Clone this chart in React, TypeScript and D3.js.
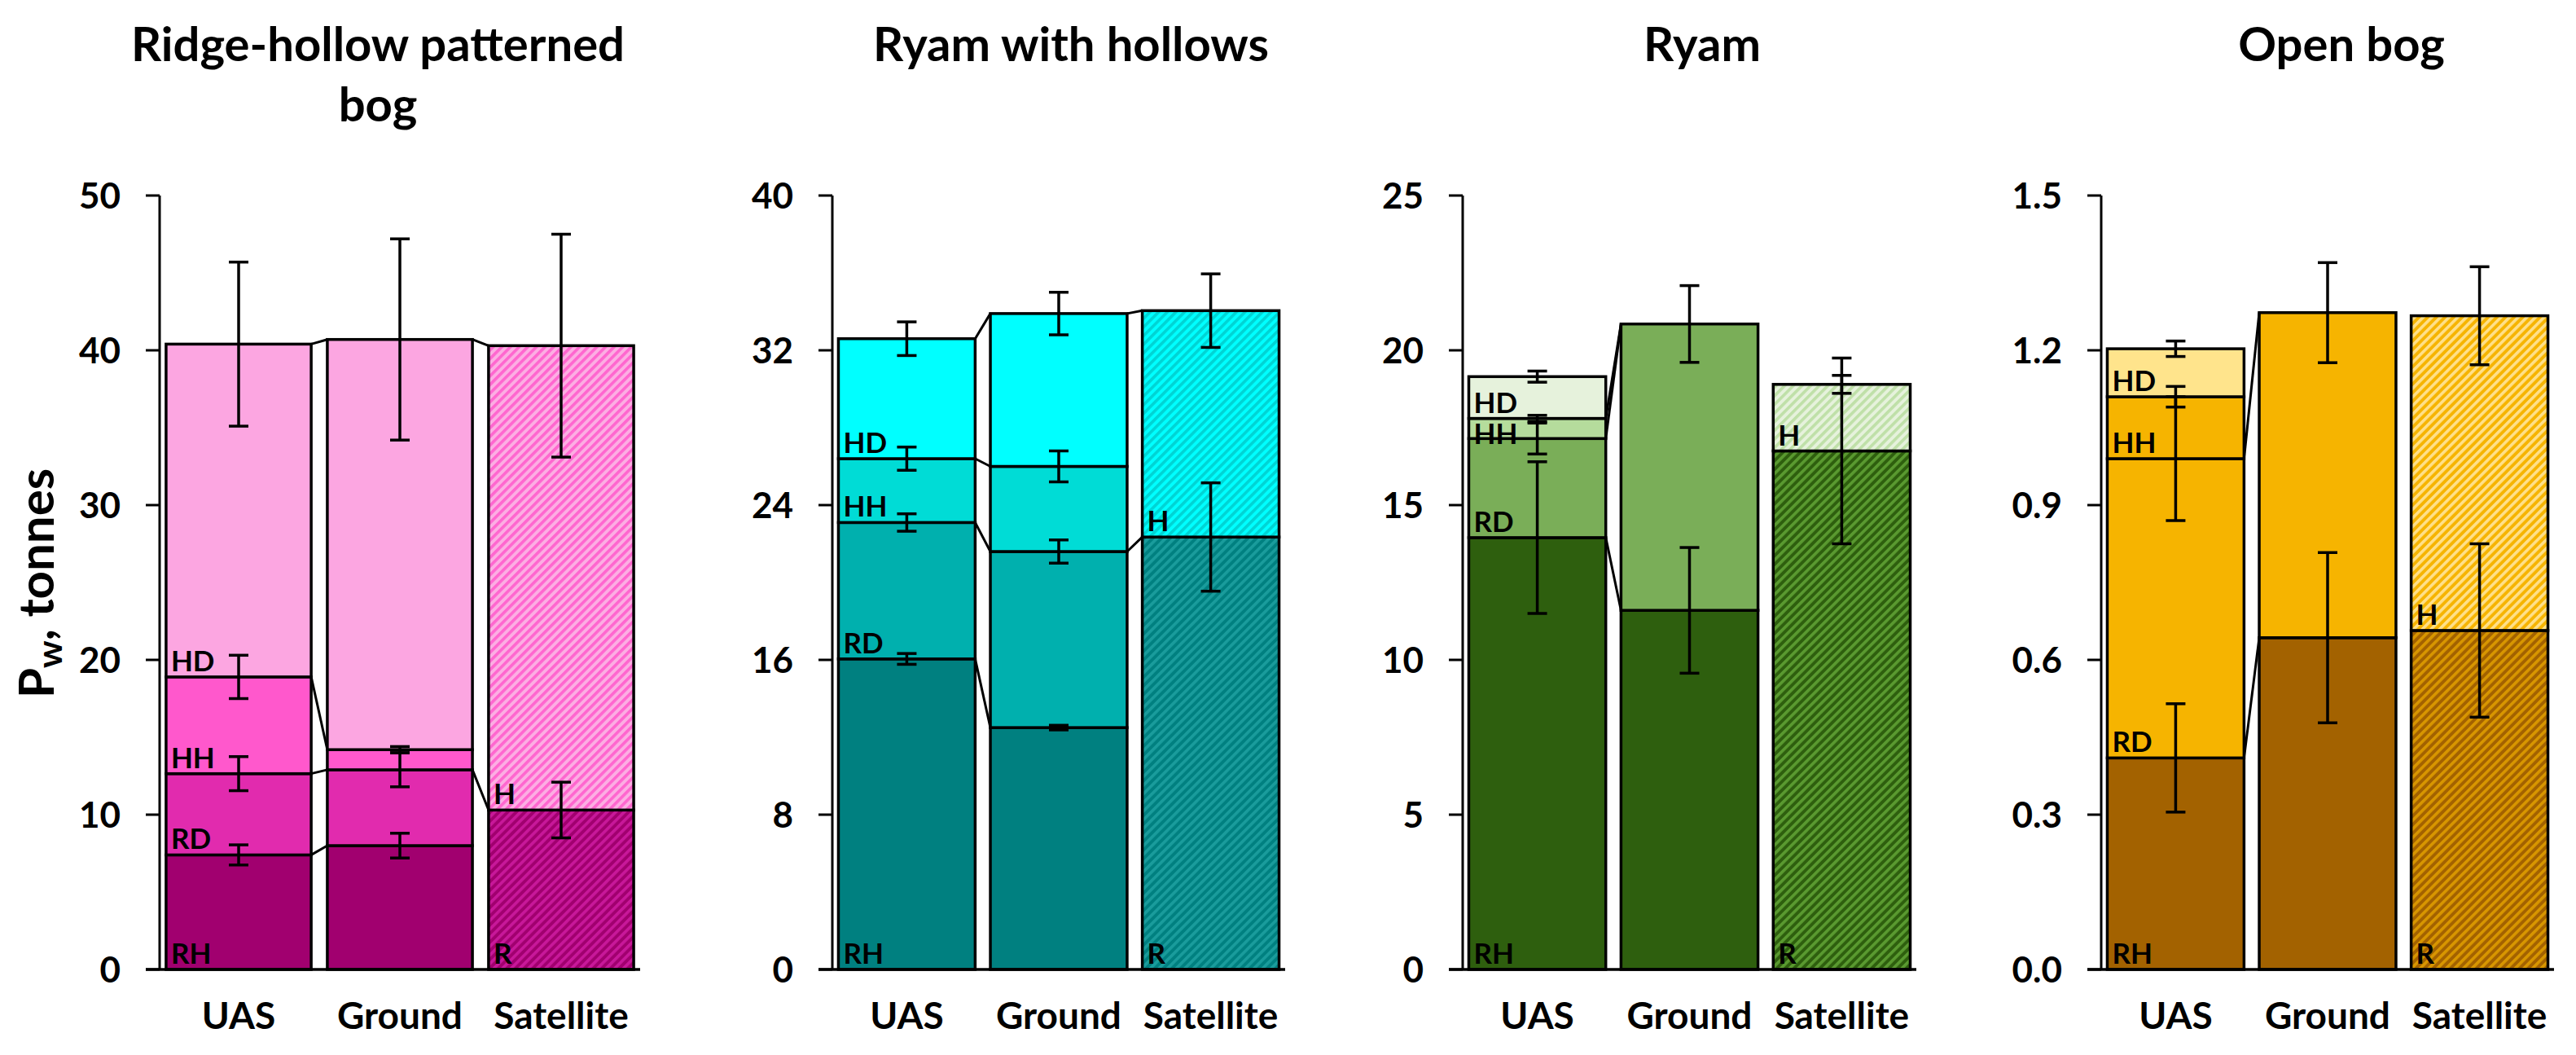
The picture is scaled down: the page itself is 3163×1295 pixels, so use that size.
import React from 'react';
import * as d3 from 'd3';

const sources = ['UAS', 'Ground', 'Satellite'];
const uasLayers = ['RH', 'RD', 'HH', 'HD'];
const satelliteLayers = ['R', 'H'];

const panelTitles = [['Ridge-hollow patterned', 'bog'], ['Ryam with hollows'], ['Ryam'], ['Open bog']];
const yMax = [50, 40, 25, 1.5];
const yStep = [10, 8, 5, 0.3];

// stacked segments, bottom to top: UAS (RH, RD, HH, HD), Ground, Satellite (R, H)
const ridgeHollowValues = [[7.4, 5.25, 6.25, 21.5], [8.0, 4.9, 1.3, 26.5], [10.3, 30.0]];
const ridgeHollowErrors = [[0.65, 1.1, 1.4, 5.3], [0.8, 1.1, 0.2, 6.5], [1.8, 7.2]];
const ryamHollowsValues = [[16.05, 7.05, 3.3, 6.2], [12.5, 9.1, 4.4, 7.9], [22.35, 11.7]];
const ryamHollowsErrors = [[0.28, 0.45, 0.6, 0.87], [0.12, 0.6, 0.8, 1.1], [2.8, 1.9]];
const ryamValues = [[13.95, 3.2, 0.65, 1.35], [11.6, 9.25], [16.75, 2.15]];
const ryamErrors = [[2.45, 0.5, 0.1, 0.18], [2.03, 1.24], [3.0, 0.29]];
const openBogValues = [[0.41, 0.58, 0.12, 0.093], [0.643, 0.63], [0.657, 0.61]];
const openBogErrors = [[0.105, 0.12, 0.02, 0.015], [0.165, 0.097], [0.168, 0.095]];

// joined stack tops [from, to]: UAS -> Ground, Ground -> Satellite
const ridgeHollowLinks = [[[0, 0], [1, 1], [2, 2], [3, 3]], [[1, 0], [3, 1]]];
const ryamHollowsLinks = [[[0, 0], [1, 1], [2, 2], [3, 3]], [[1, 0], [3, 1]]];
const ryamLinks = [[[0, 0], [1, 1], [2, 1]], []];
const openBogLinks = [[[0, 0], [1, 1]], []];

const panelValues = [ridgeHollowValues, ryamHollowsValues, ryamValues, openBogValues];
const panelErrors = [ridgeHollowErrors, ryamHollowsErrors, ryamErrors, openBogErrors];
const panelLinks = [ridgeHollowLinks, ryamHollowsLinks, ryamLinks, openBogLinks];

const layerColors = [
  ['#a1006f', '#e12bae', '#ff58cc', '#fca6e1'],
  ['#008080', '#00b0ae', '#00dcd6', '#00ffff'],
  ['#2e5f0e', '#7aae58', '#b5dc9c', '#e6f2dc'],
  ['#a36200', '#f6b400', '#f6b400', '#ffe48c'],
];
// satellite hatching: [base, stripe] for R and H
const hatchColors = [
  [['#a1006f', '#c8189a'], ['#fcaee3', '#ff66cf']],
  [['#008080', '#1a9c9c'], ['#00ffff', '#00d4d4']],
  [['#2e5f0e', '#5a9a30'], ['#e6f2dc', '#bfe0a8']],
  [['#a36200', '#d89600'], ['#f6b400', '#ffe08a']],
];

const W = 3163;
const H = 1295;
const panelX: [number, number][] = [[196, 786], [1022, 1578], [1796, 2353], [2580, 3136]];
const titleX = [464, 1315, 2090, 2875];
const yBottom = 1190;
const yTop = 240;
const font = "Lato, 'Open Sans', sans-serif";
const labelGap = 38;

function Panel({ p }: { p: number }) {
  const values = panelValues[p];
  const errors = panelErrors[p];
  const [uasLinks, satLinks] = panelLinks[p];

  const x = d3.scaleBand<string>().domain(sources).range(panelX[p]).paddingInner(0.1).paddingOuter(0.04);
  const y = d3.scaleLinear().domain([0, yMax[p]]).range([yBottom, yTop]);
  const ticks = d3.range(0, Math.round(yMax[p] / yStep[p]) + 1).map(k => k * yStep[p]);
  const fmt = p === 3 ? d3.format('.1f') : d3.format('d');
  const bw = x.bandwidth();
  const tops: number[][] = values.map(v => Array.from(d3.cumsum(v)));
  const axisX = panelX[p][0];

  const fillFor = (s: number, k: number) => (s === 2 ? `url(#hatch-${p}-${k})` : layerColors[p][k]);
  const labelsFor = (s: number) => (s === 0 ? uasLayers : s === 2 ? satelliteLayers : []);

  // segment labels sit just above each segment's base; thin segments push the label below its neighbour
  const labelY = (s: number) => {
    const out: number[] = [];
    let above = -Infinity;
    for (let k = labelsFor(s).length - 1; k >= 0; k--) {
      const lo = k === 0 ? 0 : tops[s][k - 1];
      const yy = Math.max(y(lo) - 7, above + labelGap);
      out[k] = yy;
      above = yy;
    }
    return out;
  };

  return (
    <g>
      <defs>
        {hatchColors[p].map(([base, stripe], k) => (
          <pattern key={k} id={`hatch-${p}-${k}`} patternUnits="userSpaceOnUse" width={7.5} height={7.5}
            patternTransform="rotate(45)">
            <rect width={7.5} height={7.5} fill={base} />
            <rect width={3.6} height={7.5} fill={stripe} />
          </pattern>
        ))}
      </defs>

      {panelTitles[p].map((line, i) => (
        <text key={i} x={titleX[p]} y={75 + i * 74} textAnchor="middle" fontSize={58} fontWeight={700}
          fontFamily={font}>{line}</text>
      ))}

      {/* stacked bars */}
      {sources.map((src, s) => {
        const x0 = x(src) as number;
        return values[s].map((v, k) => {
          const lo = k === 0 ? 0 : tops[s][k - 1];
          return (
            <rect key={`${s}-${k}`} x={x0} y={y(tops[s][k])} width={bw} height={y(lo) - y(tops[s][k])}
              fill={fillFor(s, k)} stroke="#000" strokeWidth={3.5} />
          );
        });
      })}

      {/* connectors between neighbouring stacks */}
      {uasLinks.map(([a, b], i) => (
        <line key={`u${i}`} x1={(x('UAS') as number) + bw} y1={y(tops[0][a])} x2={x('Ground') as number}
          y2={y(tops[1][b])} stroke="#000" strokeWidth={3} />
      ))}
      {satLinks.map(([a, b], i) => (
        <line key={`s${i}`} x1={(x('Ground') as number) + bw} y1={y(tops[1][a])} x2={x('Satellite') as number}
          y2={y(tops[2][b])} stroke="#000" strokeWidth={3} />
      ))}

      {/* segment labels */}
      {sources.map((src, s) => {
        const ys = labelY(s);
        return labelsFor(s).map((lab, k) => (
          <text key={`${s}-${lab}`} x={(x(src) as number) + 6} y={ys[k]} fontSize={35} fontWeight={700}
            fontFamily={font} fill="#000">{lab}</text>
        ));
      })}

      {/* error bars */}
      {sources.map((src, s) => {
        const cx = (x(src) as number) + bw / 2;
        return tops[s].map((t, k) => {
          const e = errors[s][k];
          return (
            <g key={`${s}-${k}`} stroke="#000" strokeWidth={3.5}>
              <line x1={cx} x2={cx} y1={y(t + e)} y2={y(t - e)} />
              <line x1={cx - 12} x2={cx + 12} y1={y(t + e)} y2={y(t + e)} />
              <line x1={cx - 12} x2={cx + 12} y1={y(t - e)} y2={y(t - e)} />
            </g>
          );
        });
      })}

      {/* axes */}
      <line x1={axisX} x2={axisX} y1={y(0)} y2={y(yMax[p])} stroke="#000" strokeWidth={3} />
      <line x1={axisX - 17} x2={panelX[p][1]} y1={y(0)} y2={y(0)} stroke="#000" strokeWidth={3.5} />
      {ticks.map(t => (
        <g key={t}>
          <line x1={axisX - 17} x2={axisX} y1={y(t)} y2={y(t)} stroke="#000" strokeWidth={3} />
          <text x={axisX - 48} y={y(t)} dy="0.36em" textAnchor="end" fontSize={44} fontWeight={700}
            fontFamily={font}>{fmt(t)}</text>
        </g>
      ))}
      {sources.map(src => (
        <text key={src} x={(x(src) as number) + bw / 2} y={1263} textAnchor="middle" fontSize={46}
          fontWeight={700} fontFamily={font}>{src}</text>
      ))}
    </g>
  );
}

export default function App() {
  return (
    <svg width={W} height={H} style={{ position: 'absolute', left: 0, top: 0, background: '#fff' }}>
      <rect width={W} height={H} fill="#fff" />
      <text transform="translate(66,716) rotate(-90)" textAnchor="middle" fontSize={60} fontWeight={700}
        fontFamily={font}>
        P<tspan fontSize={42} dy={10}>w</tspan><tspan dy={-10}>, tonnes</tspan>
      </text>
      {[0, 1, 2, 3].map(p => <Panel key={p} p={p} />)}
    </svg>
  );
}
